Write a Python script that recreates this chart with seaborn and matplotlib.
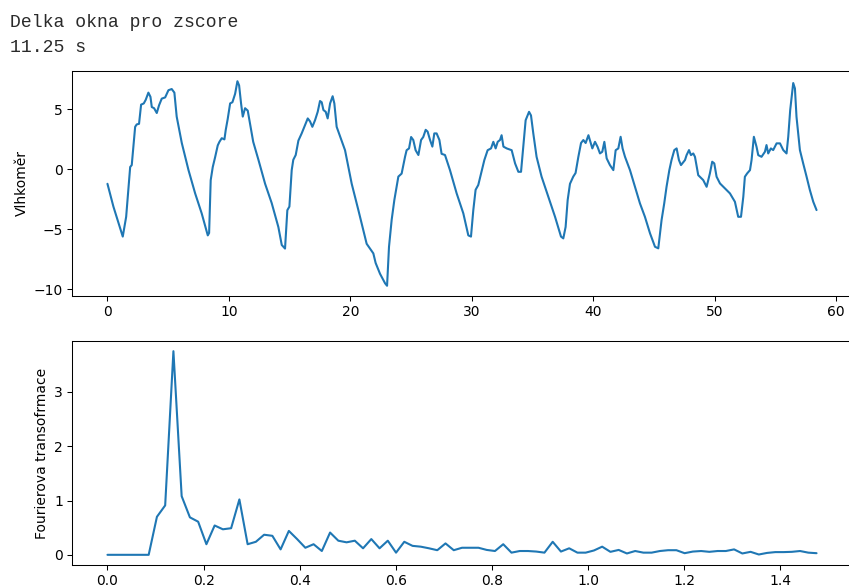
import numpy as np
import matplotlib
matplotlib.use("Agg")
import matplotlib.pyplot as plt
import seaborn as sns

# Accelerometer signal (time in s, value)
t_acc = [0.0, 0.49, 1.26, 1.54, 1.87, 2.0, 2.28, 2.41, 2.6, 2.77, 2.99, 3.15, 3.37, 3.54,
         3.65, 3.84, 4.06, 4.25, 4.47, 4.75, 5.02, 5.29, 5.51, 5.7, 6.12, 6.67, 7.22, 7.76,
         8.26, 8.37, 8.5, 8.67, 8.86, 9.08, 9.22, 9.41, 9.63, 9.74, 9.9, 10.1, 10.29, 10.51,
         10.7, 10.84, 11.0, 11.14, 11.33, 11.55, 11.74, 12.0, 12.43, 12.98, 13.52, 14.07,
         14.35, 14.62, 14.81, 14.98, 15.17, 15.3, 15.5, 15.72, 15.99, 16.27, 16.49, 16.68,
         16.87, 17.09, 17.31, 17.5, 17.64, 17.78, 17.97, 18.13, 18.33, 18.54, 18.68, 18.87,
         19.56, 20.11, 20.66, 21.34, 21.89, 22.08, 22.44, 22.86, 23.02, 23.18, 23.4, 23.62,
         23.95, 24.22, 24.5, 24.63, 24.83, 25.0, 25.18, 25.37, 25.6, 25.82, 26.0, 26.2,
         26.36, 26.56, 26.75, 26.91, 27.1, 27.33, 27.51, 27.79, 28.2, 28.75, 29.3, 29.71,
         29.93, 30.12, 30.31, 30.53, 30.76, 31.03, 31.3, 31.58, 31.77, 31.96, 32.13, 32.32,
         32.45, 32.6, 32.87, 33.28, 33.56, 33.83, 34.05, 34.24, 34.43, 34.71, 34.87, 35.06,
         35.33, 35.74, 36.3, 36.85, 37.34, 37.53, 37.72, 37.89, 38.08, 38.35, 38.54, 38.77,
         38.99, 39.18, 39.37, 39.6, 39.92, 40.14, 40.35, 40.55, 40.74, 40.91, 41.1, 41.37,
         41.65, 41.84, 42.06, 42.25, 42.41, 42.61, 43.02, 43.43, 43.84, 44.25, 44.67, 45.08,
         45.35, 45.62, 45.84, 46.03, 46.26, 46.44, 46.67, 46.86, 47.05, 47.22, 47.55, 47.68,
         47.88, 48.04, 48.23, 48.37, 48.64, 49.05, 49.33, 49.6, 49.79, 49.96, 50.15, 50.43,
         50.84, 51.25, 51.66, 51.93, 52.16, 52.35, 52.48, 52.67, 52.9, 53.03, 53.22, 53.44,
         53.58, 53.85, 54.13, 54.26, 54.4, 54.62, 54.81, 55.09, 55.37, 55.64, 55.91, 56.05,
         56.21, 56.46, 56.6, 56.73, 57.01, 57.28, 57.56, 57.83, 58.11, 58.38]
v_acc = [-1.2, -3.1, -5.6, -3.95, 0.2, 0.36, 3.55, 3.75, 3.8, 5.4, 5.5, 5.8, 6.4, 6.05,
         5.2, 5.1, 4.7, 5.35, 5.9, 6.0, 6.6, 6.7, 6.4, 4.4, 2.2, -0.05, -2.0, -3.67,
         -5.5, -5.3, -0.9, 0.2, 1.0, 2.0, 2.3, 2.6, 2.5, 3.3, 4.2, 5.5, 5.6, 6.3,
         7.35, 7.0, 5.5, 4.4, 5.1, 4.9, 3.8, 2.3, 0.8, -1.2, -2.8, -4.8,
         -6.3, -6.6, -3.4, -3.1, -0.06, 0.8, 1.2, 2.4, 3.0, 3.7, 4.25, 4.0,
         3.55, 4.1, 4.8, 5.7, 5.6, 4.95, 4.8, 4.25, 5.5, 6.1, 5.5, 3.55,
         1.6, -1.2, -3.4, -6.2, -7.0, -7.8, -8.7, -9.5, -9.7, -6.45, -4.2, -2.55,
         -0.6, -0.35, 1.05, 1.6, 1.75, 2.7, 2.45, 1.6, 1.2, 2.45, 2.7, 3.3,
         3.15, 2.45, 1.9, 3.0, 3.0, 2.45, 1.3, 1.2, -0.06, -2.0, -3.67, -5.5,
         -5.6, -3.4, -1.7, -1.3, -0.33, 0.78, 1.6, 1.75, 2.3, 1.75, 2.3, 2.45,
         2.85, 1.9, 1.75, 1.6, 0.5, -0.2, -0.2, 1.9, 4.1, 4.8, 4.5, 3.0,
         1.05, -0.6, -2.3, -3.95, -5.6, -5.75, -4.8, -2.55, -1.2, -0.6, -0.3, 1.05,
         2.2, 2.45, 2.2, 2.85, 1.75, 2.3, 1.88, 1.33, 1.47, 2.3, 0.92, 0.36,
         -0.06, 1.6, 1.75, 2.72, 1.75, 1.05, -0.06, -1.45, -2.83, -3.95, -5.33, -6.45,
         -6.58, -4.23, -2.83, -1.45, -0.06, 0.78, 1.61, 1.75, 0.78, 0.36, 0.78, 1.19,
         1.61, 1.19, 1.33, 1.05, -0.48, -0.89, -1.45, -0.33, 0.64, 0.5, -0.61, -1.17,
         -1.58, -2.0, -2.7, -3.95, -3.95, -2.28, -0.61, -0.33, -0.06, 0.78, 2.72, 1.88,
         1.19, 1.05, 1.47, 2.03, 1.33, 1.75, 1.61, 2.17, 2.17, 1.61, 1.33, 2.72,
         4.94, 7.2, 6.75, 4.38, 1.61, 0.5, -0.61, -1.72, -2.7, -3.39]

# Fourier spectrum magnitudes, one per frequency bin
freq_step = 1 / 58.3
fft_amp = [0.0, 0.0, 0.0, 0.0, 0.0, 0.0, 0.70, 0.91, 3.75, 1.08,
           0.69, 0.61, 0.195, 0.54, 0.47, 0.49, 1.02, 0.195, 0.24, 0.37,
           0.35, 0.10, 0.44, 0.29, 0.13, 0.195, 0.07, 0.41, 0.26, 0.23,
           0.26, 0.12, 0.29, 0.12, 0.26, 0.04, 0.24, 0.165, 0.15, 0.12,
           0.085, 0.21, 0.085, 0.13, 0.13, 0.13, 0.09, 0.07, 0.195, 0.04,
           0.07, 0.07, 0.06, 0.04, 0.24, 0.06, 0.12, 0.04, 0.04, 0.08,
           0.15, 0.055, 0.09, 0.025, 0.07, 0.04, 0.04, 0.07, 0.085, 0.085,
           0.03, 0.06, 0.07, 0.055, 0.07, 0.07, 0.10, 0.025, 0.055, 0.006,
           0.035, 0.05, 0.05, 0.055, 0.07, 0.04, 0.03]
freqs = np.arange(len(fft_amp)) * freq_step

DPI = 93.6
W, H = 849, 588

sns.set_style("ticks")
plt.rcParams.update({
    "font.family": ["DejaVu Sans"],
    "font.size": 10.7,
    "axes.edgecolor": "black",
    "axes.linewidth": 0.8,
    "axes.labelcolor": "black",
    "xtick.color": "black",
    "ytick.color": "black",
    "xtick.major.size": 3.5,
    "ytick.major.size": 3.5,
    "xtick.major.width": 0.8,
    "ytick.major.width": 0.8,
    "xtick.labelsize": 10.7,
    "ytick.labelsize": 10.7,
    "axes.labelsize": 10.7,
})

fig = plt.figure(figsize=(W / DPI, H / DPI), dpi=DPI)
fig.patch.set_facecolor("white")

def px_axes(left, top, right, bottom):
    return fig.add_axes([left / W, 1 - bottom / H, (right - left) / W, (bottom - top) / H])

ax1 = px_axes(72, 71, 852, 296)
ax2 = px_axes(72, 341, 852, 565)

line_color = "#1f77b4"
sns.lineplot(x=t_acc, y=v_acc, ax=ax1, color=line_color, linewidth=1.6,
             estimator=None, sort=False)
sns.lineplot(x=freqs, y=fft_amp, ax=ax2, color=line_color, linewidth=1.6,
             estimator=None, sort=False)

for ax in (ax1, ax2):
    for s in ax.spines.values():
        s.set_visible(True)
    ax.margins(x=0.05, y=0.05)

ax1.set_ylabel("Vlhkoměr")
ax1.set_yticks([-10, -5, 0, 5])
ax1.set_xticks([0, 10, 20, 30, 40, 50, 60])

ax2.set_ylabel("Fourierova transofrmace")
ax2.set_yticks([0, 1, 2, 3])
ax2.set_xticks([0.0, 0.2, 0.4, 0.6, 0.8, 1.0, 1.2, 1.4])

# Printed output above the figure
fig.text(10 / W, 1 - 27 / H, "Delka okna pro zscore", family="Liberation Mono",
         fontsize=14, color="#2a2a2a", va="baseline", ha="left")
fig.text(10 / W, 1 - 52 / H, "11.25 s", family="Liberation Mono",
         fontsize=14, color="#2a2a2a", va="baseline", ha="left")

fig.savefig("out.png", dpi=DPI, facecolor="white")
